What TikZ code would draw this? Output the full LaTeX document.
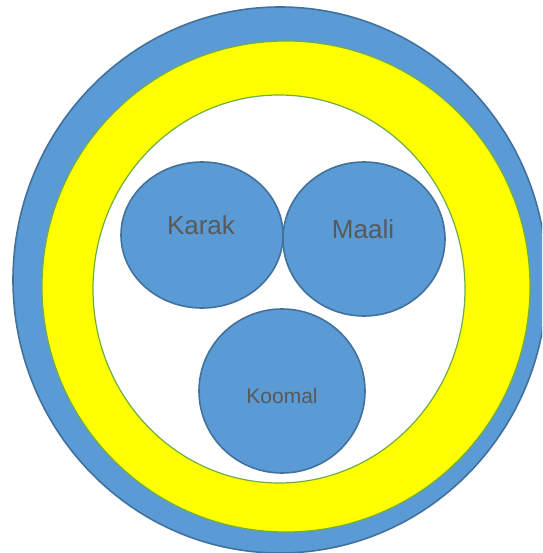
\documentclass[tikz,border=0pt]{standalone}
\usepackage{fontspec}
\setmainfont{Liberation Sans}
\definecolor{fillblue}{HTML}{5B9BD5}
\definecolor{edgeblue}{HTML}{41719C}
\definecolor{ringyellow}{HTML}{FFFF00}
\definecolor{edgegreen}{HTML}{70AD47}
\definecolor{txtgray}{HTML}{595959}
\tikzset{
  bluedisc/.style={ellipse, draw=edgeblue, fill=fillblue, line width=1.6pt, inner sep=0pt},
  lbl/.style={text=txtgray, inner sep=0pt}
}
\usetikzlibrary{shapes.geometric}
\begin{document}
\begin{tikzpicture}[x=1pt,y=-1pt]
\useasboundingbox (0,0) rectangle (542,553);
\clip (0,0) rectangle (542,553);
\node[bluedisc, minimum width=534, minimum height=546] (outer) at (280,280) {};
\node[ellipse, draw=edgegreen, fill=ringyellow, line width=1.2pt, minimum width=488, minimum height=491] (ring) at (286,286.5) {};
\node[ellipse, draw=edgegreen, fill=white, line width=1.2pt, minimum width=372, minimum height=388] (inner) at (279,289) {};
\node[bluedisc, minimum width=162, minimum height=146] (karak) at (202,235) {};
\node[bluedisc, minimum width=162, minimum height=154] (maali) at (364,239) {};
\node[bluedisc, minimum width=166, minimum height=164] (koomal) at (282,391) {};
\node[lbl, font=\fontsize{26}{30}\selectfont] (tk) at (201,225) {Karak};
\node[lbl, font=\fontsize{26}{30}\selectfont] (tm) at (363,229) {Maali};
\node[lbl, font=\fontsize{21}{25}\selectfont] (tko) at (282,396) {Koomal};
\end{tikzpicture}
\end{document}
